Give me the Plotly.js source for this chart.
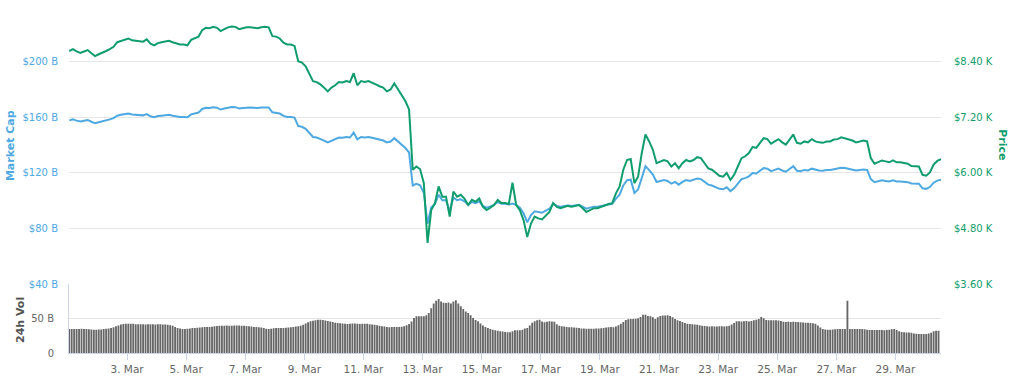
<!DOCTYPE html>
<html><head><meta charset="utf-8">
<script src="https://cdn.plot.ly/plotly-3.0.1.min.js"></script>
<style>html,body{margin:0;padding:0;background:#fff}#chart{width:1024px;height:385px}</style>
</head><body><div id="chart"></div>
<script>
// ---- data ----
const startTime = '2020-03-01T01:00:00Z';
const lineStepHours = 3;   // one price / market-cap reading every 3 hours
const volStepHours = 2;    // one volume bar every 2 hours

const priceK = [
8.63,8.67,8.62,8.59,8.62,8.65,8.58,8.52,
8.56,8.59,8.63,8.67,8.72,8.82,8.85,8.87,
8.90,8.86,8.85,8.85,8.83,8.88,8.79,8.75,
8.80,8.82,8.84,8.85,8.82,8.79,8.77,8.77,
8.75,8.87,8.91,8.94,9.08,9.13,9.12,9.15,
9.13,9.06,9.10,9.14,9.16,9.15,9.10,9.12,
9.14,9.14,9.13,9.12,9.14,9.15,9.14,8.95,
8.94,8.90,8.81,8.77,8.77,8.74,8.41,8.38,
8.30,8.15,7.98,7.96,7.91,7.84,7.76,7.84,
7.89,7.96,7.95,7.98,7.96,8.15,7.89,7.98,
7.96,7.98,7.95,7.91,7.87,7.84,7.76,7.80,
7.93,7.80,7.67,7.55,7.37,6.07,6.14,6.08,
5.78,4.49,5.20,5.35,5.71,5.49,5.49,5.06,
5.60,5.49,5.53,5.45,5.31,5.42,5.38,5.45,
5.27,5.20,5.25,5.31,5.42,5.35,5.35,5.33,
5.79,5.31,5.20,4.98,4.62,4.91,5.06,5.02,
5.00,5.09,5.16,5.35,5.27,5.24,5.27,5.29,
5.27,5.29,5.31,5.24,5.16,5.20,5.24,5.24,
5.27,5.31,5.33,5.35,5.56,5.71,6.07,6.28,
6.30,5.78,5.92,6.43,6.83,6.68,6.50,6.21,
6.25,6.28,6.25,6.14,6.21,6.10,6.21,6.28,
6.25,6.28,6.34,6.32,6.21,6.10,6.07,6.00,
5.94,5.92,6.00,5.85,5.96,6.14,6.32,6.36,
6.43,6.56,6.54,6.65,6.75,6.73,6.63,6.68,
6.73,6.66,6.61,6.72,6.83,6.65,6.63,6.68,
6.66,6.73,6.68,6.66,6.65,6.68,6.68,6.72,
6.73,6.77,6.75,6.72,6.70,6.66,6.68,6.70,
6.68,6.32,6.20,6.23,6.27,6.25,6.23,6.27,
6.23,6.23,6.21,6.20,6.15,6.15,6.14,5.96,
5.94,6.01,6.18,6.26,6.30
];

const marketCapB = [
157.8,158.5,157.6,157.0,157.6,158.1,156.8,155.7,
156.5,157.0,157.8,158.5,159.4,161.2,161.8,162.1,
162.7,162.0,161.8,161.8,161.4,162.3,160.7,160.0,
160.9,161.2,161.6,161.8,161.2,160.7,160.3,160.3,
160.0,162.1,162.9,163.4,166.0,166.9,166.7,167.3,
166.9,165.6,166.3,167.1,167.4,167.3,166.3,166.7,
167.1,167.1,166.9,166.7,167.1,167.3,167.1,163.6,
163.4,162.7,161.0,160.3,160.3,159.8,153.7,153.2,
151.7,149.0,145.9,145.5,144.6,143.3,141.9,143.3,
144.2,145.5,145.3,145.9,145.5,149.0,144.2,145.9,
145.5,145.9,145.3,144.6,143.9,143.3,141.9,142.6,
145.0,142.6,140.2,138.0,134.7,111.0,112.2,111.1,
105.7,83.5,95.1,97.8,104.4,100.4,100.4,92.5,
102.4,100.4,101.1,99.6,97.1,99.1,98.3,99.6,
96.3,95.1,96.0,97.1,99.1,97.8,97.8,97.4,
98.0,97.1,95.1,91.0,84.5,89.8,92.5,91.8,
91.4,93.0,94.3,97.8,96.3,95.8,96.3,96.7,
96.3,96.7,97.1,95.8,94.3,95.1,95.8,95.8,
96.3,97.1,97.4,97.8,101.6,104.4,111.0,114.8,
115.2,105.7,108.2,117.5,124.9,122.1,118.8,113.5,
114.3,114.9,114.3,112.3,113.6,111.6,113.6,114.9,
114.3,114.9,116.0,115.6,113.6,111.6,111.0,109.7,
108.6,108.3,109.7,107.0,109.0,112.3,115.6,116.3,
117.6,120.0,119.6,121.6,123.5,123.1,121.3,122.2,
123.1,121.8,120.9,122.9,124.9,121.6,121.3,122.2,
121.8,123.1,122.2,121.8,121.6,122.2,122.2,122.9,
123.1,123.8,123.5,122.9,122.5,121.8,122.2,122.5,
122.2,115.6,113.4,113.9,114.7,114.3,113.9,114.7,
113.9,113.9,113.6,113.4,112.5,112.5,112.3,109.0,
108.6,109.9,113.0,114.5,115.2
];

const volumeB = [
35.0,35.1,35.0,34.9,35.0,35.2,35.0,34.8,34.6,34.2,
34.0,33.9,34.1,34.3,34.8,
35.4,35.6,36.2,37.5,
38.8,40.2,41.5,
42.2,42.5,42.7,42.7,
42.4,42.0,41.8,41.7,41.7,41.6,41.7,41.8,41.7,41.6,41.7,41.7,41.6,41.4,41.0,
40.3,39.5,38.0,
36.5,35.5,35.0,34.8,35.2,
35.8,36.2,36.4,36.8,37.2,37.6,
37.9,38.0,37.8,38.2,38.8,39.2,
39.6,39.8,39.8,39.9,39.8,39.8,40.0,40.1,39.9,39.8,39.6,39.3,
38.8,38.4,38.0,37.9,37.6,37.0,36.2,
35.2,35.0,35.4,35.9,
36.2,36.4,36.5,36.4,36.6,37.0,37.4,37.8,
38.4,38.8,39.5,41.0,43.0,44.8,46.1,
47.0,47.8,48.5,48.3,48.0,47.4,
46.5,45.8,45.0,44.2,43.7,
43.2,42.8,42.4,42.2,42.5,
43.0,42.8,42.4,42.2,42.4,42.6,42.4,42.0,41.6,41.0,40.4,
39.8,39.0,38.4,37.9,
37.6,37.8,37.9,38.0,37.9,38.2,39.0,40.5,
42.2,46.0,
51.0,53.4,53.6,53.4,53.6,55.0,
58.2,65.0,
72.0,76.0,78.6,
75.0,73.0,72.8,73.5,72.0,
75.0,76.7,
72.0,68.0,
64.0,60.5,58.2,55.0,
51.0,48.0,46.1,43.0,
40.0,38.0,36.4,35.0,
34.0,33.2,32.4,31.8,31.2,30.6,30.2,30.1,
31.8,33.0,33.0,33.2,33.8,
35.5,36.4,40.0,
44.0,46.1,47.5,
48.5,
46.0,44.7,
45.5,46.1,46.0,45.5,
42.0,39.5,38.8,38.5,38.0,
37.6,37.4,37.2,36.8,36.2,
35.8,35.5,35.4,35.2,35.2,35.4,35.6,35.6,36.0,
36.5,37.0,37.5,37.9,37.6,38.4,
40.5,42.7,45.0,
48.0,49.0,49.5,49.5,49.8,50.5,52.5,
55.8,55.5,54.0,
53.4,52.0,49.5,
52.0,53.8,54.4,54.6,54.8,54.0,52.0,
49.5,47.6,46.5,45.0,43.5,42.5,
42.2,42.0,41.5,41.0,40.5,39.8,39.2,
38.8,38.6,38.8,38.5,38.6,38.9,38.8,38.7,38.8,39.5,
41.3,43.5,46.1,
46.3,46.0,46.1,46.4,46.0,46.5,47.5,
48.5,49.5,52.4,50.5,
48.0,47.6,47.8,47.6,47.7,47.4,46.5,
45.5,45.1,45.3,45.0,45.4,45.1,45.0,44.8,44.5,44.2,44.0,43.6,43.2,
42.7,40.0,37.0,35.0,
34.2,34.0,34.0,34.2,34.5,34.8,35.0,35.0,35.0,
76.2,
35.0,35.0,34.8,35.0,35.0,34.8,34.5,34.0,
33.5,33.6,33.4,33.5,33.6,33.4,33.2,33.5,33.8,34.6,
35.0,33.5,
31.5,30.5,30.1,30.0,29.8,29.4,
28.5,28.0,27.7,27.7,27.6,27.8,28.2,29.5,
31.5,32.5,32.5
];

const tickDates = ['2020-03-03','2020-03-05','2020-03-07','2020-03-09','2020-03-11','2020-03-13','2020-03-15',
                   '2020-03-17','2020-03-19','2020-03-21','2020-03-23','2020-03-25','2020-03-27','2020-03-29'];
const tickLabels = ['3. Mar','5. Mar','7. Mar','9. Mar','11. Mar','13. Mar','15. Mar',
                    '17. Mar','19. Mar','21. Mar','23. Mar','25. Mar','27. Mar','29. Mar'];
const capTicks = [40,80,120,160,200,240];
const capLabels = ['$40 B','$80 B','$120 B','$160 B','$200 B',''];
const priceTicks = [3.6,4.8,6.0,7.2,8.4,9.6];
const priceLabels = ['$3.60 K','$4.80 K','$6.00 K','$7.20 K','$8.40 K',''];
const volTicks = [0,50,100];
const volLabels = ['0','50 B',''];

// ---- helpers ----
function timeAxis(n, stepH){
  const t0 = Date.parse(startTime), out = [];
  for (let i = 0; i < n; i++){
    out.push(new Date(t0 + i*stepH*3600000).toISOString().slice(0,16).replace('T',' '));
  }
  return out;
}

const BLUE = '#4ea9e2', GREEN = '#109d6c', GREY = '#666666';
const FONT = 'DejaVu Sans, sans-serif';

const traces = [
  {type:'bar', x: timeAxis(volumeB.length, volStepHours), y: volumeB, xaxis:'x', yaxis:'y3',
   marker:{color:'#666666', line:{width:0}}, hoverinfo:'skip'},
  {type:'scatter', mode:'lines', x: timeAxis(marketCapB.length, lineStepHours), y: marketCapB,
   xaxis:'x', yaxis:'y', line:{color:BLUE, width:2}, hoverinfo:'skip'},
  {type:'scatter', mode:'lines', x: timeAxis(priceK.length, lineStepHours), y: priceK,
   xaxis:'x', yaxis:'y2', line:{color:GREEN, width:2}, hoverinfo:'skip'}
];

const layout = {
  width:1024, height:385,
  margin:{l:69, r:83, t:6, b:32},
  paper_bgcolor:'#fff', plot_bgcolor:'#fff',
  showlegend:false, bargap:0.25,
  font:{family:FONT, size:10, color:GREY},
  xaxis:{type:'date', anchor:'y3', domain:[0,1],
         range:['2020-03-01 00:50','2020-03-30 13:00'],
         tickmode:'array', tickvals:tickDates, ticktext:tickLabels,
         ticks:'outside', ticklen:6, tickcolor:'#ccd6eb',
         showline:true, linecolor:'#ccd6eb', showgrid:false, zeroline:false,
         tickfont:{family:FONT, size:10.5, color:'#666'}},
  yaxis:{domain:[0.198,1], range:[40,240], tickmode:'array', tickvals:capTicks, ticktext:capLabels,
         showgrid:true, gridcolor:'#e6e6e6', zeroline:false, showline:false, ticks:'',
         ticklabelstandoff:10, tickfont:{family:FONT, size:10, color:BLUE}},
  yaxis2:{overlaying:'y', side:'right', anchor:'x', range:[3.6,9.6], tickmode:'array',
          tickvals:priceTicks, ticktext:priceLabels, showgrid:false, zeroline:false, ticks:'',
          ticklabelstandoff:12, tickfont:{family:FONT, size:10, color:GREEN}},
  yaxis3:{domain:[0,0.198], anchor:'x', range:[0,100], tickmode:'array', tickvals:volTicks, ticktext:volLabels,
          showgrid:true, gridcolor:'#e6e6e6', zeroline:false, showline:true, linecolor:'#ccd6eb', ticks:'',
          ticklabelstandoff:12, tickfont:{family:FONT, size:10, color:'#666'}},
  annotations:[
    {text:'<b>Market Cap</b>', xref:'paper', yref:'paper', x:-0.0677, y:0.599, textangle:-90,
     showarrow:false, xanchor:'center', yanchor:'middle', font:{family:FONT, size:11, color:BLUE}},
    {text:'<b>Price</b>', xref:'paper', yref:'paper', x:1.071, y:0.599, textangle:90,
     showarrow:false, xanchor:'center', yanchor:'middle', font:{family:FONT, size:11, color:GREEN}},
    {text:'<b>24h Vol</b>', xref:'paper', yref:'paper', x:-0.0562, y:0.095, textangle:-90,
     showarrow:false, xanchor:'center', yanchor:'middle', font:{family:FONT, size:11, color:'#555'}}
  ]
};

Plotly.newPlot('chart', traces, layout, {displayModeBar:false, staticPlot:true});
</script>
</body></html>
